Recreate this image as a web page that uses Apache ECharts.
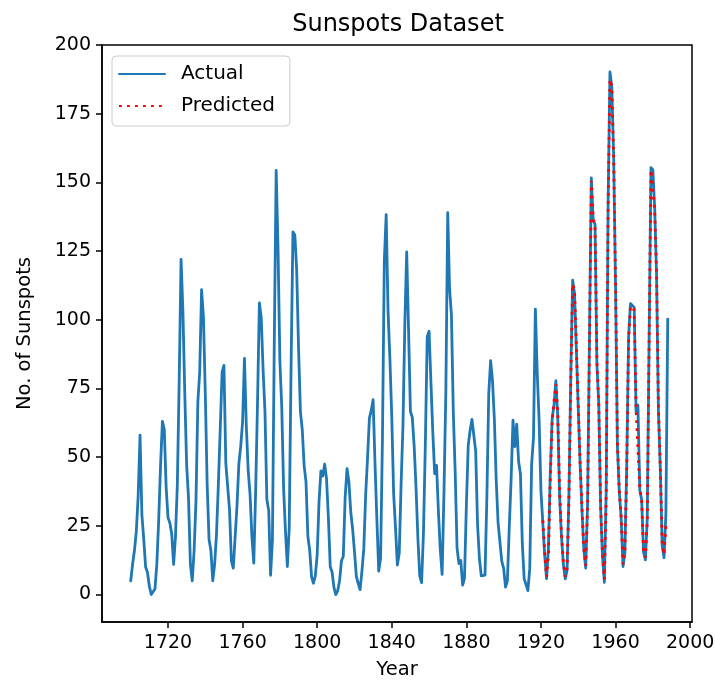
<!DOCTYPE html>
<html>
<head>
<meta charset="utf-8">
<script src="https://cdn.jsdelivr.net/npm/echarts@6/dist/echarts.min.js"></script>
<style>
html,body{margin:0;padding:0;background:#fff;}
#chart{width:715px;height:684px;}
</style>
</head>
<body>
<div id="chart"></div>
<script>
// ---- data ----
const startYear = 1700;
const actualValues = [
5.0,11.0,16.0,23.0,36.0,58.0,29.0,20.0,10.0,8.0,
3.0,0.0,0.0,2.0,11.0,27.0,47.0,63.0,60.0,39.0,
28.0,26.0,22.0,11.0,21.0,40.0,78.0,122.0,103.0,73.0,
47.0,35.0,11.0,5.0,16.0,34.0,70.0,81.0,111.0,101.0,
73.0,40.0,20.0,16.0,5.0,11.0,22.0,40.0,60.0,80.9,
83.4,47.7,47.8,30.7,12.2,9.6,10.2,32.4,47.6,54.0,
62.9,85.9,61.2,45.1,36.4,20.9,11.4,37.8,69.8,106.1,
100.8,81.6,66.5,34.8,30.6,7.0,19.8,92.5,154.4,125.9,
84.8,68.1,38.5,22.8,10.2,24.1,82.9,132.0,130.9,118.1,
89.9,66.6,60.0,46.9,41.0,21.3,16.0,6.4,4.1,6.8,
14.5,34.0,45.0,43.1,47.5,42.2,28.1,10.1,8.1,2.5,
0.0,1.4,5.0,12.2,13.9,35.4,45.8,41.1,30.1,23.9,
15.6,6.6,4.0,1.8,8.5,16.6,36.3,49.6,64.2,67.0,
70.9,47.8,27.5,8.5,13.2,56.9,121.5,138.3,103.2,85.7,
64.6,36.7,24.2,10.7,15.0,40.1,61.5,98.5,124.7,96.3,
66.6,64.5,54.1,39.0,20.6,6.7,4.3,22.7,54.8,93.8,
95.8,77.2,59.1,44.0,47.0,30.5,16.3,7.3,37.6,74.0,
139.0,111.2,101.6,66.2,44.7,17.0,11.3,12.4,3.4,6.0,
32.3,54.3,59.7,63.7,63.5,52.2,25.4,13.1,6.8,6.3,
7.1,35.6,73.0,85.1,78.0,64.0,41.8,26.2,26.7,12.1,
9.5,2.7,5.0,24.4,42.0,63.5,53.8,62.0,48.5,43.9,
18.6,5.7,3.6,1.4,9.6,47.4,57.1,103.9,80.6,63.6,
37.6,26.1,14.2,5.8,16.7,44.3,63.9,69.0,77.8,64.9,
35.7,21.2,11.1,5.7,8.7,36.1,79.7,114.4,109.6,88.8,
67.8,47.5,30.6,16.3,9.6,33.2,92.6,151.6,136.3,134.7,
83.9,69.4,31.5,13.9,4.4,38.0,141.7,190.2,184.8,159.0,
112.3,53.9,37.5,27.9,10.2,15.1,47.0,93.8,105.9,105.5,
104.5,66.6,68.9,38.0,34.5,15.5,12.6,27.5,92.5,155.4,
154.6,140.5,115.9,66.6,45.9,17.9,13.4,29.2,100.2
];
const predStartYear = 1921;
const predictedValues = [
27.0,15.5,6.5,15.0,42.0,63.0,70.5,76.5,66.0,
37.5,22.0,12.0,6.5,9.5,35.0,78.0,113.0,110.5,89.5,
68.5,48.0,31.5,17.0,10.5,32.0,91.0,150.5,137.0,133.5,
85.0,69.0,32.5,14.5,5.5,37.0,140.0,187.5,185.0,158.0,
113.0,55.0,38.0,28.5,11.0,15.5,46.0,93.0,105.0,105.0,
103.5,67.5,68.0,39.0,34.0,16.5,13.5,27.0,91.5,154.5,
154.0,140.0,116.5,67.5,46.5,18.5,14.5,25.0
];
const xTicks = [1720,1760,1800,1840,1880,1920,1960,2000];
const yTicks = [0,25,50,75,100,125,150,175,200];
const seriesNames = ['Actual','Predicted'];
const titleText = 'Sunspots Dataset';
const xName = 'Year';
const yName = 'No. of Sunspots';

// ---- build ----
const actualData = actualValues.map((v,i)=>[startYear+i, v]);
const predData = predictedValues.map((v,i)=>[predStartYear+i, v]);
const FONT = 'DejaVu Sans';

const chart = echarts.init(document.getElementById('chart'), null, {renderer:'canvas'});
chart.setOption({
  animation:false,
  backgroundColor:'#fff',
  textStyle:{fontFamily:FONT},
  title:{
    text:titleText,
    left:393, top:8, textAlign:'center',
    textStyle:{fontFamily:FONT,fontSize:24,fontWeight:'normal',color:'#000'}
  },
  grid:{
    left:102, right:23, top:45, bottom:62,
    containLabel:false, outerBoundsMode:'none',
    show:true, borderColor:'#000', borderWidth:1.5, backgroundColor:'transparent'
  },
  legend:{
    data:seriesNames,
    orient:'vertical',
    left:112, top:56,
    padding:[8,15,10,6],
    itemGap:12,
    itemWidth:46, itemHeight:14,
    itemStyle:{opacity:0},
    borderColor:'#cccccc', borderWidth:1, borderRadius:4,
    backgroundColor:'rgba(255,255,255,0.8)',
    textStyle:{fontFamily:FONT,fontSize:20,color:'#000',lineHeight:20,padding:[0,0,0,11]}
  },
  xAxis:{
    type:'value', min:1684.6, max:2001,
    name:xName, nameLocation:'middle', nameGap:38,
    nameTextStyle:{fontFamily:FONT,fontSize:19.5,color:'#000'},
    axisLine:{show:true,onZero:false,lineStyle:{color:'#000',width:1.5}},
    axisTick:{show:true,length:6,customValues:xTicks,lineStyle:{color:'#000',width:1.5}},
    axisLabel:{show:true,margin:12,customValues:xTicks,fontFamily:FONT,fontSize:19,color:'#000',
      formatter:v=>String(v)},
    splitLine:{show:false}
  },
  yAxis:{
    type:'value', min:-10, max:200,
    name:yName, nameLocation:'middle', nameGap:67, nameRotate:90,
    nameTextStyle:{fontFamily:FONT,fontSize:19.5,color:'#000'},
    axisLine:{show:true,onZero:false,lineStyle:{color:'#000',width:1.5}},
    axisTick:{show:true,length:6,customValues:yTicks,lineStyle:{color:'#000',width:1.5}},
    axisLabel:{show:true,margin:11,customValues:yTicks,fontFamily:FONT,fontSize:19,color:'#000',
      formatter:v=>String(v)},
    splitLine:{show:false}
  },
  series:[
    {
      name:seriesNames[0], type:'line', data:actualData,
      symbol:'none', showSymbol:false, smooth:false,
      lineStyle:{color:'#1f77b4',width:2.8,join:'round',cap:'round'},
      itemStyle:{color:'#1f77b4'},
      z:2
    },
    {
      name:seriesNames[1], type:'line', data:predData,
      symbol:'none', showSymbol:false, smooth:false,
      lineStyle:{color:'#ff0000',width:2.8,type:[2.8,5.2],cap:'butt'},
      itemStyle:{color:'#ff0000'},
      z:3
    }
  ]
});
</script>
</body>
</html>
